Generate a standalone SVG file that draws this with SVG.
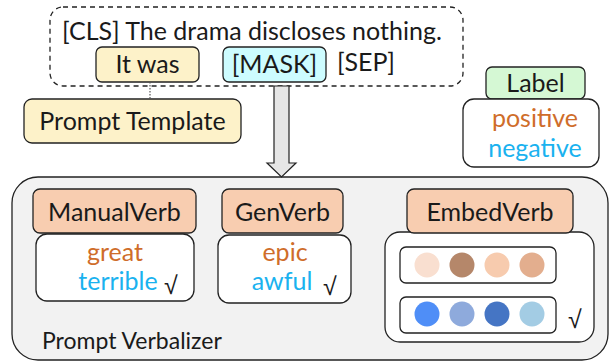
<svg xmlns="http://www.w3.org/2000/svg" width="611" height="364" viewBox="0 0 611 364">
  <style>
    text { font-family: Lato, "Open Sans", "Liberation Sans", sans-serif; fill: #1a1a1a; font-size: 25px; }
    .pv { font-size: 23px; }
    .pos { fill: #cf6d2a; }
    .neg { fill: #1ab2ef; }
    .box { stroke: #222; stroke-width: 1.3; }
    .verb { fill: #f8cdb0; stroke: #222; stroke-width: 1.3; }
    .card { fill: #ffffff; stroke: #222; stroke-width: 1.3; }
    .chk { font-family: "DejaVu Sans", sans-serif; font-size: 25px; font-weight: 300; }
  </style>

  <!-- input sentence with template -->
  <g id="input">
    <rect x="50" y="7" width="413" height="79" rx="13" fill="#ffffff" stroke="#222" stroke-width="1.3" stroke-dasharray="5,4"/>
    <text x="62" y="40">[CLS] The drama discloses nothing.</text>
    <text x="337" y="71">[SEP]</text>
  </g>
  <g id="it-was">
    <rect class="box" x="96" y="47" width="103" height="35" rx="6" fill="#fdf2c9"/>
    <text x="147.5" y="73" text-anchor="middle">It was</text>
  </g>
  <g id="mask">
    <rect class="box" x="223" y="47" width="103" height="35" rx="6" fill="#cdfcff"/>
    <text x="274.5" y="73" text-anchor="middle">[MASK]</text>
  </g>
  <g id="prompt-template">
    <rect class="box" x="24" y="99" width="217" height="44" rx="8" fill="#fdf2c9"/>
    <text x="132.5" y="130" text-anchor="middle">Prompt Template</text>
  </g>

  <!-- label set -->
  <g id="label">
    <rect class="box" x="486" y="67" width="99" height="32" rx="6" fill="#d5f8d4"/>
    <text x="535.5" y="92" text-anchor="middle">Label</text>
  </g>
  <g id="label-words">
    <rect class="card" x="463" y="99" width="136" height="68" rx="11"/>
    <text class="pos" x="535" y="127" text-anchor="middle">positive</text>
    <text class="neg" x="535" y="157" text-anchor="middle">negative</text>
  </g>

  <!-- verbalizer panel -->
  <g id="prompt-verbalizer">
    <rect x="12" y="177" width="596" height="183" rx="26" fill="#f2f2f2" stroke="#222" stroke-width="1.3"/>
    <text class="pv" x="42" y="349">Prompt Verbalizer</text>
  </g>

  <g id="manual-verb">
    <rect class="card" x="36" y="234" width="158" height="67" rx="11"/>
    <rect class="verb" x="33" y="189" width="163" height="44" rx="7"/>
    <text x="114.5" y="221" text-anchor="middle">ManualVerb</text>
    <text class="pos" x="115" y="261" text-anchor="middle">great</text>
    <text class="neg" x="118" y="290" text-anchor="middle">terrible</text>
    <text class="chk" x="164" y="294">√</text>
  </g>

  <g id="gen-verb">
    <rect class="card" x="218" y="235" width="133" height="68" rx="11"/>
    <rect class="verb" x="222" y="189" width="121" height="44" rx="7"/>
    <text x="282.5" y="221" text-anchor="middle">GenVerb</text>
    <text class="pos" x="285" y="261" text-anchor="middle">epic</text>
    <text class="neg" x="282" y="290" text-anchor="middle">awful</text>
    <text class="chk" x="323" y="295">√</text>
  </g>

  <g id="embed-verb">
    <rect class="card" x="385" y="232" width="209" height="110" rx="15"/>
    <rect class="verb" x="407" y="189" width="166" height="44" rx="7"/>
    <text x="490" y="221" text-anchor="middle">EmbedVerb</text>
    <rect class="card" x="400" y="247" width="156" height="36" rx="6"/>
    <circle cx="427" cy="265" r="12.5" fill="#f9dfd0"/>
    <circle cx="462" cy="265" r="12.5" fill="#b5876a"/>
    <circle cx="497" cy="265" r="12.5" fill="#f7cbae"/>
    <circle cx="532" cy="265" r="12.5" fill="#e3ae8e"/>
    <rect class="card" x="400" y="297" width="156" height="36" rx="6"/>
    <circle cx="427" cy="314" r="12.5" fill="#4f8ef7"/>
    <circle cx="462" cy="314" r="12.5" fill="#8eaadc"/>
    <circle cx="497" cy="314" r="12.5" fill="#4575c4"/>
    <circle cx="532" cy="314" r="12.5" fill="#a3cce4"/>
    <text class="chk" x="568" y="328">√</text>
  </g>

  <!-- connectors -->
  <g id="connectors">
    <line x1="150" y1="82" x2="150" y2="99" stroke="#555" stroke-width="1.2" stroke-dasharray="1.5,1.5"/>
    <path d="M274,86 L289,86 L289,163 L296,163 L281.5,177 L267,163 L274,163 Z" fill="#e6e6e6" stroke="#222" stroke-width="1.2"/>
  </g>
</svg>
